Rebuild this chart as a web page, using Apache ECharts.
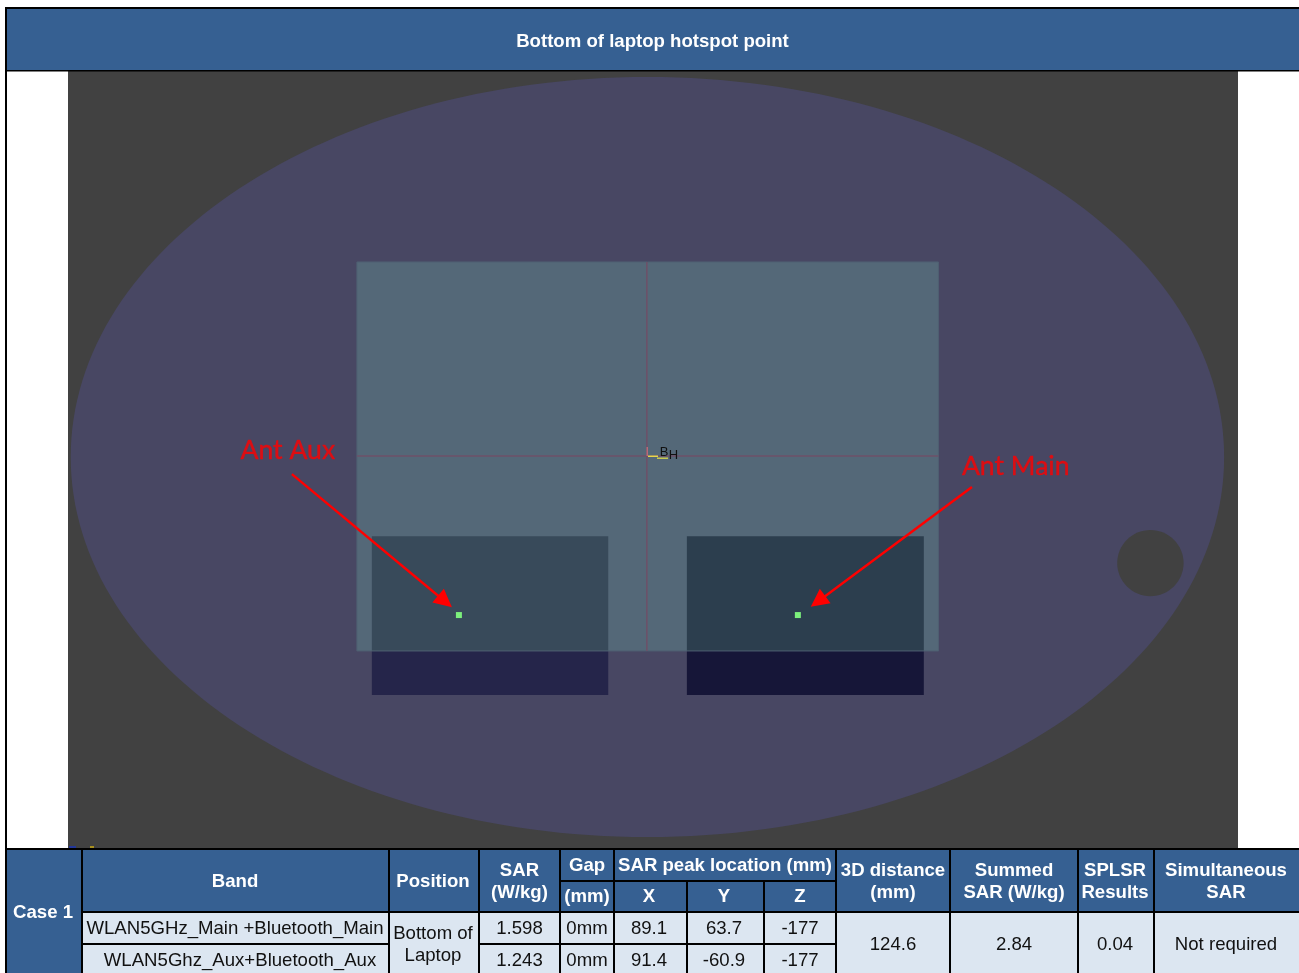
<!DOCTYPE html>
<html>
<head>
<meta charset="utf-8">
<style>html,body{margin:0;padding:0;background:#fff}#c{width:1299px;height:973px}</style>
<script src="https://cdn.jsdelivr.net/npm/echarts@6/dist/echarts.min.js"></script>
</head>
<body>
<div id="c"></div>
<script>
// Data (millimetres on the scan plane)
const titleText = 'Bottom of laptop hotspot point';
const peakLabels = ['Ant Main', 'Ant Aux'];
const peakAcross = [63.7, -60.9];
const peakAlong = [90, 90];
const labelAcross = [143.8, -123.8];
const labelAlong = [35.2, 29.3];
const arrowStart = [[127.7, 42.9], [-122.3, 38.2]];
const arrowEnd = [[71.1, 85], [-66, 85]];
const phantomEllipse = [8.4, 31.9, 212, 139.7];
const holeCircle = [193.3, 70.9, 12.2];
const laptopRect = [[-98.4, -39.8, 115.4, 103.2]];
const auxPanel = [[-92.9, 61, -6, 103]];
const mainPanel = [[22.9, 61, 110, 103]];
const auxPanelLow = [[-92.9, 103, -6, 119.4]];
const mainPanelLow = [[22.9, 103, 110, 119.4]];
const crossH = [[-98.4, 31.5], [115.4, 31.5]];
const crossV = [[8.2, -39.8], [8.2, 103.2]];

// Table text
const caseLabel = 'Case 1';
const bandHeader = 'Band';
const positionHeader = 'Position';
const sarHeader = 'SAR\n(W/kg)';
const gapHeader = ['Gap', '(mm)'];
const peakHeader = 'SAR peak location (mm)';
const axisHeaders = ['X', 'Y', 'Z'];
const distanceHeader = '3D distance\n(mm)';
const summedHeader = 'Summed\nSAR (W/kg)';
const splsrHeader = 'SPLSR\nResults';
const simHeader = 'Simultaneous\nSAR';
const bands = ['WLAN5GHz_Main +Bluetooth_Main', 'WLAN5Ghz_Aux+Bluetooth_Aux'];
const positionCell = 'Bottom of\nLaptop';
const sarValues = ['1.598', '1.243'];
const gapValues = ['0mm', '0mm'];
const xValues = ['89.1', '91.4'];
const yValues = ['63.7', '-60.9'];
const zValues = ['-177', '-177'];
const distanceValue = '124.6';
const summedValue = '2.84';
const splsrValue = '0.04';
const simValue = 'Not required';

// Layout
const FONT = '"Liberation Sans", Arial, sans-serif';
const BLUE = '#366092', PALE = '#dce6f1', BLACK = '#000';

const chart = echarts.init(document.getElementById('c'), null, {renderer: 'canvas'});
const g = [];
const rect = (x0, y0, x1, y1, fill) => g.push({type: 'rect', silent: true, z: 50,
  shape: {x: x0, y: y0, width: x1 - x0, height: y1 - y0}, style: {fill}});
const label = (x, y, t, bold, color, size) => g.push({type: 'text', silent: true, z: 60, x, y,
  style: {text: t, fill: color || (bold ? '#fff' : '#111'), font: (bold ? 'bold ' : '') + (size || 18.6) + 'px ' + FONT,
    textAlign: 'center', textVerticalAlign: 'middle', lineHeight: 22}});
const txt = (x, y, t, bold) => label(x, y + 1, t, bold);

// Title band
rect(6, 8, 1299, 71, BLUE);
rect(5, 7, 1299, 9, BLACK);
rect(5, 70, 1299, 71.5, BLACK);
label(652.5, 42, titleText, true);

// Table fills
rect(6, 849, 1299, 912, BLUE);
rect(6, 849, 82, 973, BLUE);
rect(82, 912, 1299, 973, PALE);
rect(5, 7, 7, 973, BLACK);
// Table rules
rect(5, 848, 1299, 850, BLACK);
[82, 389, 479, 560, 614, 836, 950, 1078, 1154].forEach(x => rect(x - 1, 849, x + 1, 973, BLACK));
[687, 764].forEach(x => rect(x - 1, 881, x + 1, 973, BLACK));
rect(560, 880, 836, 882, BLACK);
rect(82, 911, 1299, 913, BLACK);
rect(82, 943, 389, 945, BLACK);
rect(479, 943, 836, 945, BLACK);

// Table text
txt(43, 912, caseLabel, true);
txt(235, 881, bandHeader, true);
txt(433, 881, positionHeader, true);
txt(519.5, 881, sarHeader, true);
txt(587, 865, gapHeader[0], true);
txt(587, 896, gapHeader[1], true);
txt(725, 865, peakHeader, true);
axisHeaders.forEach((t, i) => txt([649, 724, 800][i], 896, t, true));
txt(893, 881, distanceHeader, true);
txt(1014, 881, summedHeader, true);
txt(1115, 881, splsrHeader, true);
txt(1226, 881, simHeader, true);
[0, 1].forEach(i => {
  const y = [928, 960][i];
  txt([235, 240][i], y, bands[i]);
  txt(519.5, y, sarValues[i]);
  txt(587, y, gapValues[i]);
  txt(649, y, xValues[i]);
  txt(724, y, yValues[i]);
  txt(800, y, zValues[i]);
});
txt(433, 944, positionCell);
txt(893, 944, distanceValue);
txt(1014, 944, summedValue);
txt(1115, 944, splsrValue);
txt(1226, 944, simValue);

// Origin glyph
rect(648, 455.5, 658, 457, '#e8d84a');
rect(657, 457.5, 668, 459, '#c8c850');
rect(646.5, 447, 648, 456, '#b86a78');
label(664, 452, 'B', false, '#111', 13);
label(673.5, 455, 'H', false, '#111', 13);
// Tiny axis triad at the image's lower-left corner
rect(69, 846, 76, 848, '#23379a');
rect(90, 846, 94, 848, '#a89020');

const rectSeries = (data, fill, stroke) => ({
  type: 'custom', data, silent: true, clip: false,
  encode: {x: [0, 2], y: [1, 3]},
  renderItem: (p, api) => {
    const a = api.coord([api.value(0), api.value(1)]);
    const b = api.coord([api.value(2), api.value(3)]);
    return {type: 'rect', shape: {x: a[0], y: a[1], width: b[0] - a[0], height: b[1] - a[1]},
      style: {fill, stroke: stroke || null, lineWidth: stroke ? 1 : 0}};
  }
});
const roundSeries = (vals, fill) => ({
  type: 'custom', data: [vals], silent: true, clip: false,
  renderItem: (p, api) => {
    const c = api.coord([api.value(0), api.value(1)]);
    const s = api.size([api.value(2), vals.length > 3 ? api.value(3) : api.value(2)]);
    return {type: 'ellipse', shape: {cx: c[0], cy: c[1], rx: s[0], ry: s[1]}, style: {fill}};
  }
});
const crossSeries = (pts) => ({type: 'line', data: pts, silent: true, symbol: 'none',
  lineStyle: {color: '#6e5068', width: 1.5}});

chart.setOption({
  animation: false,
  backgroundColor: '#ffffff',
  textStyle: {fontFamily: FONT},
  grid: {left: 68, right: 61, top: 71, bottom: 124, backgroundColor: '#414141', show: true, borderWidth: 0},
  xAxis: {type: 'value', min: -204.6, max: 225.5, show: false},
  yAxis: {type: 'value', min: -110, max: 176, inverse: true, show: false},
  graphic: g,
  series: [
    roundSeries(phantomEllipse, '#484763'),
    roundSeries(holeCircle, '#414141'),
    rectSeries(auxPanelLow, '#25254a'),
    rectSeries(mainPanelLow, '#161638'),
    rectSeries(laptopRect, '#546878', '#4e5f72'),
    rectSeries(auxPanel, '#384a5a'),
    rectSeries(mainPanel, '#2c3e4e'),
    crossSeries(crossH),
    crossSeries(crossV),
    {
      type: 'scatter', silent: true, symbol: 'square', symbolSize: 6,
      itemStyle: {color: '#7cf07c', opacity: 1},
      data: peakAcross.map((v, i) => [v, peakAlong[i]]),
      markLine: {
        silent: true, symbol: ['none', 'triangle'], symbolSize: 18, animation: false, label: {show: false},
        lineStyle: {color: '#ff0000', width: 2.4, type: 'solid', opacity: 1},
        data: arrowStart.map((s, i) => [{coord: s}, {coord: arrowEnd[i]}])
      }
    },
    {
      type: 'scatter', silent: true, symbolSize: 0,
      data: labelAcross.map((v, i) => ({value: [v, labelAlong[i]], name: peakLabels[i]})),
      label: {show: true, position: 'inside', formatter: p => p.name, color: '#ff0000', fontSize: 26.6, fontFamily: 'Lato',
        textBorderColor: '#ff0000', textBorderWidth: 0.4}
    }
  ]
});
</script>
</body>
</html>
